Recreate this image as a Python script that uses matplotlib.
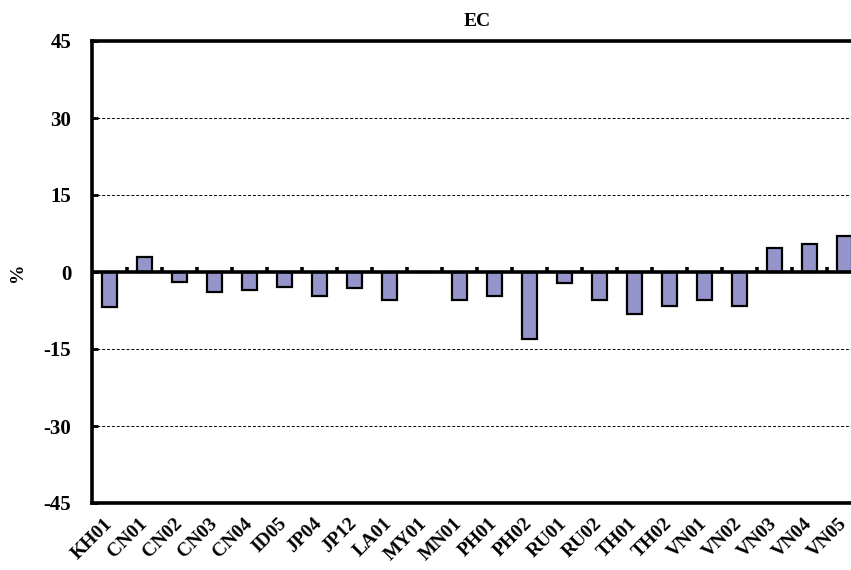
import numpy as np
import matplotlib.pyplot as plt

sites = ['KH01', 'CN01', 'CN02', 'CN03', 'CN04', 'ID05', 'JP04', 'JP12', 'LA01', 'MY01', 'MN01',
         'PH01', 'PH02', 'RU01', 'RU02', 'TH01', 'TH02', 'VN01', 'VN02', 'VN03', 'VN04', 'VN05']
ec_change = [-6.9, 2.9, -2.0, -3.9, -3.6, -2.9, -4.7, -3.2, -5.5, 0.0, -5.4,
             -4.6, -13.1, -2.1, -5.4, -8.2, -6.6, -5.4, -6.6, 4.6, 5.5, 7.0]
yticks = [-45, -30, -15, 0, 15, 30, 45]

plt.rcParams['font.family'] = ['Liberation Serif', 'DejaVu Serif']
plt.rcParams['font.weight'] = 'bold'
plt.rcParams['axes.unicode_minus'] = False

fig = plt.figure(figsize=(8.51, 5.70), dpi=100)
ax = fig.add_axes([92 / 851, 67 / 570, 770 / 851, 462 / 570])

x = np.arange(len(sites))
ax.bar(x, ec_change, width=0.43, color='#9595cc', edgecolor='black', linewidth=1.6, zorder=3)

# zero line with small upward ticks between categories
ax.axhline(0, color='black', linewidth=2.6, zorder=4)
ax.vlines(x[:-1] + 0.5, 0, 0.9, color='black', linewidth=2.6, zorder=4)

for y in [-30, -15, 15, 30]:
    ax.axhline(y, color='black', linestyle=(0, (3, 2)), linewidth=0.7, zorder=1)

ax.set_xlim(-0.5, len(sites) - 0.5)
ax.set_ylim(-45, 45)
ax.set_yticks(yticks)
ax.tick_params(axis='y', direction='in', length=4, width=2, labelsize=15, pad=15)
ax.set_xticks(x)
ax.set_xticklabels(sites, rotation=45, ha='right', va='center', rotation_mode='anchor', fontsize=14)
ax.tick_params(axis='x', length=0, pad=13)

for s in ax.spines.values():
    s.set_linewidth(2.6)

ax.set_title('EC', fontsize=14, fontweight='bold', pad=11)
fig.text(17 / 851, 1 - 272 / 570, '%', rotation=90, fontsize=14, fontweight='bold',
         ha='center', va='center')

fig.savefig('out.png', dpi=100)
